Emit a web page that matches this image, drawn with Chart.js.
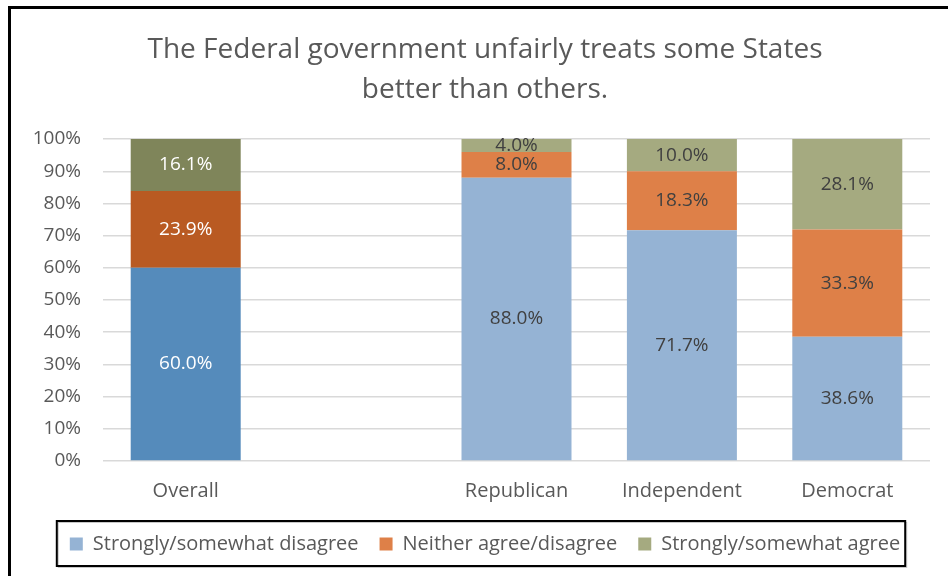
<!DOCTYPE html>
<html>
<head>
<meta charset="utf-8">
<script src="https://cdn.jsdelivr.net/npm/chart.js@4/dist/chart.umd.min.js"></script>
<style>
  html, body { margin: 0; padding: 0; background: #fff; overflow: hidden; }
  #frame { position: absolute; left: 8px; top: 6px; width: 1000px; height: 700px;
           border: 3px solid #000; box-sizing: border-box; }
  #wrap { position: absolute; left: 0; top: 0; width: 970px; height: 576px; }
</style>
</head>
<body>
<div id="frame"></div>
<div id="wrap"><canvas id="c" width="970" height="576"></canvas></div>
<script>
// Survey responses by group (percent of respondents)
const categories = ['Overall', '', 'Republican', 'Independent', 'Democrat'];
const seriesNames = ['Strongly/somewhat disagree', 'Neither agree/disagree', 'Strongly/somewhat agree'];
const disagree = [60.0, null, 88.0, 71.7, 38.6];
const neither  = [23.9, null, 8.0, 18.3, 33.3];
const agree    = [16.1, null, 4.0, 10.0, 28.1];
const yTickValues = [0, 10, 20, 30, 40, 50, 60, 70, 80, 90, 100];

// Overall bar uses a deeper shade of each series colour
const darkColors  = ['#558BBB', '#B95A22', '#7F855A'];
const lightColors = ['#95B3D4', '#DE8048', '#A5AA80'];

const FONT = '"Open Sans", Lato, sans-serif';
const TEXT = '#595959';

function barColors(s) {
  return categories.map((_, i) => (i === 0 ? darkColors[s] : lightColors[s]));
}

const seriesValues = [disagree, neither, agree];
const datasets = seriesValues.map((vals, s) => ({
  label: seriesNames[s],
  data: vals,
  backgroundColor: barColors(s),
  borderWidth: 0,
  barPercentage: 0.665,
  categoryPercentage: 1.0
}));

// Centered value labels inside each bar segment
const valueLabels = {
  id: 'valueLabels',
  afterDatasetsDraw(chart) {
    const ctx = chart.ctx;
    ctx.save();
    ctx.font = '19px ' + FONT;
    ctx.textAlign = 'center';
    ctx.textBaseline = 'middle';
    chart.data.datasets.forEach((ds, di) => {
      const meta = chart.getDatasetMeta(di);
      meta.data.forEach((bar, i) => {
        const v = ds.data[i];
        if (v == null) return;
        const p = bar.getProps(['x', 'y', 'base'], true);
        ctx.fillStyle = i === 0 ? '#FFFFFF' : '#404040';
        ctx.fillText(v.toFixed(1) + '%', p.x, (p.y + p.base) / 2);
      });
    });
    ctx.restore();
  }
};

// Thin black frame around the legend
const legendFrame = {
  id: 'legendFrame',
  afterDraw(chart) {
    const hb = chart.legend && chart.legend.legendHitBoxes;
    if (!hb || !hb.length) return;
    const first = hb[0], last = hb[hb.length - 1];
    const cy = first.top + first.height / 2;
    const left = first.left - 13;
    const right = last.left + last.width + 5;
    const ctx = chart.ctx;
    ctx.save();
    ctx.strokeStyle = '#C8C8C8';
    ctx.lineWidth = 1;
    ctx.strokeRect(left + 1.5, cy - 21.5, right - left, 45);
    ctx.strokeStyle = '#000';
    ctx.lineWidth = 2;
    ctx.strokeRect(left, cy - 23, right - left, 45);
    ctx.restore();
  }
};

new Chart(document.getElementById('c'), {
  type: 'bar',
  data: { labels: categories, datasets },
  plugins: [valueLabels, legendFrame],
  options: {
    responsive: false,
    animation: false,
    layout: { padding: { left: 0, right: 0, top: 0, bottom: 12 } },
    plugins: {
      title: {
        display: true,
        text: ['The Federal government unfairly treats some States', 'better than others.'],
        color: TEXT,
        font: { family: FONT, size: 28, weight: 'normal', lineHeight: 1.43 },
        padding: { top: 30, bottom: 29 }
      },
      legend: {
        position: 'bottom',
        labels: {
          color: TEXT,
          font: { family: FONT, size: 20 },
          boxWidth: 13,
          boxHeight: 13,
          padding: 21,
          generateLabels(chart) {
            return Chart.defaults.plugins.legend.labels.generateLabels(chart).map((item, i) => {
              item.fillStyle = lightColors[i];
              item.strokeStyle = lightColors[i];
              item.lineWidth = 0;
              return item;
            });
          }
        }
      },
      tooltip: { enabled: false }
    },
    scales: {
      x: {
        stacked: true,
        grid: { display: false },
        border: { display: false },
        ticks: { color: TEXT, font: { family: FONT, size: 20 }, padding: 10 },
        afterFit(scale) { scale.height = 52; }
      },
      y: {
        stacked: true,
        min: 0,
        max: 100,
        afterBuildTicks(scale) { scale.ticks = yTickValues.map(v => ({ value: v })); },
        grid: { color: '#D9D9D9', lineWidth: 1.5, drawTicks: false },
        border: { display: false },
        ticks: {
          color: TEXT,
          font: { family: FONT, size: 19 },
          padding: 22,
          callback: v => v + '%'
        },
        afterFit(scale) { scale.width = 103; }
      },
      // empty spacer on the right so the plot ends short of the frame edge
      spacer: {
        type: 'linear',
        position: 'right',
        grid: { display: false },
        border: { display: false },
        ticks: { display: false },
        afterFit(scale) { scale.width = 40; }
      }
    }
  }
});
</script>
</body>
</html>
